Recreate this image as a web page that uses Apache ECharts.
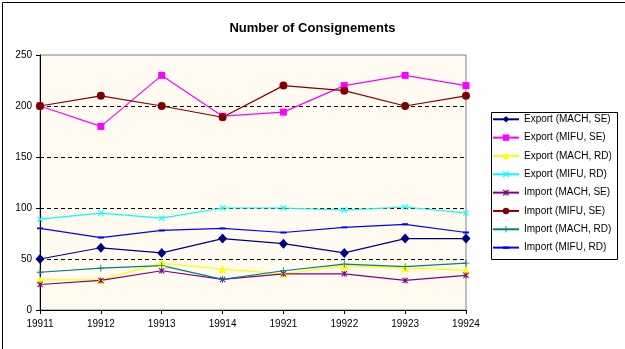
<!DOCTYPE html>
<html>
<head>
<meta charset="utf-8">
<script src="https://cdn.jsdelivr.net/npm/echarts@6/dist/echarts.min.js"></script>
<style>
html,body{margin:0;padding:0;background:#fff;}
#c{width:625px;height:349px;}
</style>
</head>
<body>
<div id="c"></div>
<script>
var categories = ['19911','19912','19913','19914','19921','19922','19923','19924'];
var exportMachSE = [50, 61, 56, 70, 65, 56, 70, 70];
var exportMifuSE = [200, 180, 230, 190, 194, 220, 230, 220];
var exportMachRD = [29.5, 29.5, 46, 40, 35.5, 43.5, 41, 39];
var exportMifuRD = [89, 95, 90, 100, 100, 98, 101, 95];
var importMachSE = [25, 29, 38.5, 30, 35.5, 35.5, 29, 34];
var importMifuSE = [200, 210, 200, 189, 220, 215, 200, 210];
var importMachRD = [37, 41, 43.5, 30, 38.5, 45, 42.5, 46];
var importMifuRD = [80, 71, 78, 80, 76, 81, 84, 76];
var gridLines = [50, 100, 150, 200];
var seriesNames = ['Export (MACH, SE)','Export (MIFU, SE)','Export (MACH, RD)','Export (MIFU, RD)','Import (MACH, SE)','Import (MIFU, SE)','Import (MACH, RD)','Import (MIFU, RD)'];

var FONT = '"Liberation Sans", Arial, sans-serif';
var xPath = 'path://M0,1.2L1.2,0L5,3.8L8.8,0L10,1.2L6.2,5L10,8.8L8.8,10L5,6.2L1.2,10L0,8.8L3.8,5Z';
var starPath = 'path://M0,1.2L1.2,0L5,3.8L8.8,0L10,1.2L6.2,5L10,8.8L8.8,10L5,6.2L1.2,10L0,8.8L3.8,5ZM4.3,0L5.7,0L5.7,10L4.3,10Z';
var plusPath = 'path://M4.4,0L5.6,0L5.6,4.4L10,4.4L10,5.6L5.6,5.6L5.6,10L4.4,10L4.4,5.6L0,5.6L0,4.4L4.4,4.4Z';
var dashPath = 'path://M0,0L0.01,0L0.01,0.01ZM0,3.4L10,3.4L10,6.6L0,6.6ZM10,10L9.99,10L9.99,9.99Z';

function mk(name, data, color, symbol, size) {
  return {
    name: name, type: 'line', data: data,
    symbol: symbol, symbolSize: size, showSymbol: true,
    itemStyle: {color: color},
    lineStyle: {color: color, width: 1.2},
    z: 3
  };
}

var series = [
  mk(seriesNames[0], exportMachSE, '#000080', 'diamond', [9, 10]),
  mk(seriesNames[1], exportMifuSE, '#FF00FF', 'rect', 7),
  mk(seriesNames[2], exportMachRD, '#FFFF00', 'triangle', 8),
  mk(seriesNames[3], exportMifuRD, '#00FFFF', xPath, 6),
  mk(seriesNames[4], importMachSE, '#800080', starPath, 6),
  mk(seriesNames[5], importMifuSE, '#800000', 'circle', 8),
  mk(seriesNames[6], importMachRD, '#008080', plusPath, 7),
  mk(seriesNames[7], importMifuRD, '#0000FF', dashPath, 6),
  {
    name: 'grid', type: 'line', data: [], silent: true, z: 1,
    markLine: {
      silent: true, symbol: 'none', z: 1, animation: false,
      label: {show: false},
      lineStyle: {color: '#000', type: [4, 3], width: 1},
      data: gridLines.map(function (v) { return {yAxis: v}; })
    }
  }
];

var chart = echarts.init(document.getElementById('c'), null, {renderer: 'canvas'});
chart.setOption({
  animation: false,
  backgroundColor: '#ffffff',
  title: {
    text: 'Number of Consignements',
    left: 'center', top: 17,
    textStyle: {fontFamily: FONT, fontSize: 13, fontWeight: 'bold', color: '#000'}
  },
  legend: {
    data: seriesNames,
    orient: 'vertical',
    left: 492, top: 114.3,
    itemWidth: 26, itemHeight: 8, itemGap: 8.33,
    padding: 0,
    textStyle: {fontFamily: FONT, fontSize: 10, color: '#000'},
    selectedMode: false
  },
  grid: {
    left: 40, top: 55, right: 159, bottom: 39,
    show: true, backgroundColor: '#FFFBF0',
    borderColor: '#808080', borderWidth: 1
  },
  xAxis: {
    type: 'category', data: categories, boundaryGap: false,
    axisLine: {lineStyle: {color: '#000', width: 1}},
    axisTick: {show: true, length: 4, lineStyle: {color: '#000'}},
    axisLabel: {margin: 9, fontFamily: FONT, fontSize: 10, color: '#000'},
    splitLine: {show: false}
  },
  yAxis: {
    type: 'value', min: 0, max: 250, interval: 50,
    axisLine: {show: true, lineStyle: {color: '#000', width: 1}},
    axisTick: {show: true, length: 4, lineStyle: {color: '#000'}},
    axisLabel: {margin: 8, fontFamily: FONT, fontSize: 10, color: '#000'},
    splitLine: {show: false}
  },
  graphic: [
    {type: 'rect', left: 0, top: 0, z: 100, silent: true,
     shape: {x: 0.5, y: 0.5, width: 623, height: 347},
     style: {fill: 'none', stroke: '#000', lineWidth: 1}},
    {type: 'rect', z: 100, silent: true, left: 489, top: 110,
     shape: {x: 0.5, y: 0.5, width: 126, height: 147},
     style: {fill: 'none', stroke: '#000', lineWidth: 1}}
  ],
  series: series
});
</script>
</body>
</html>
